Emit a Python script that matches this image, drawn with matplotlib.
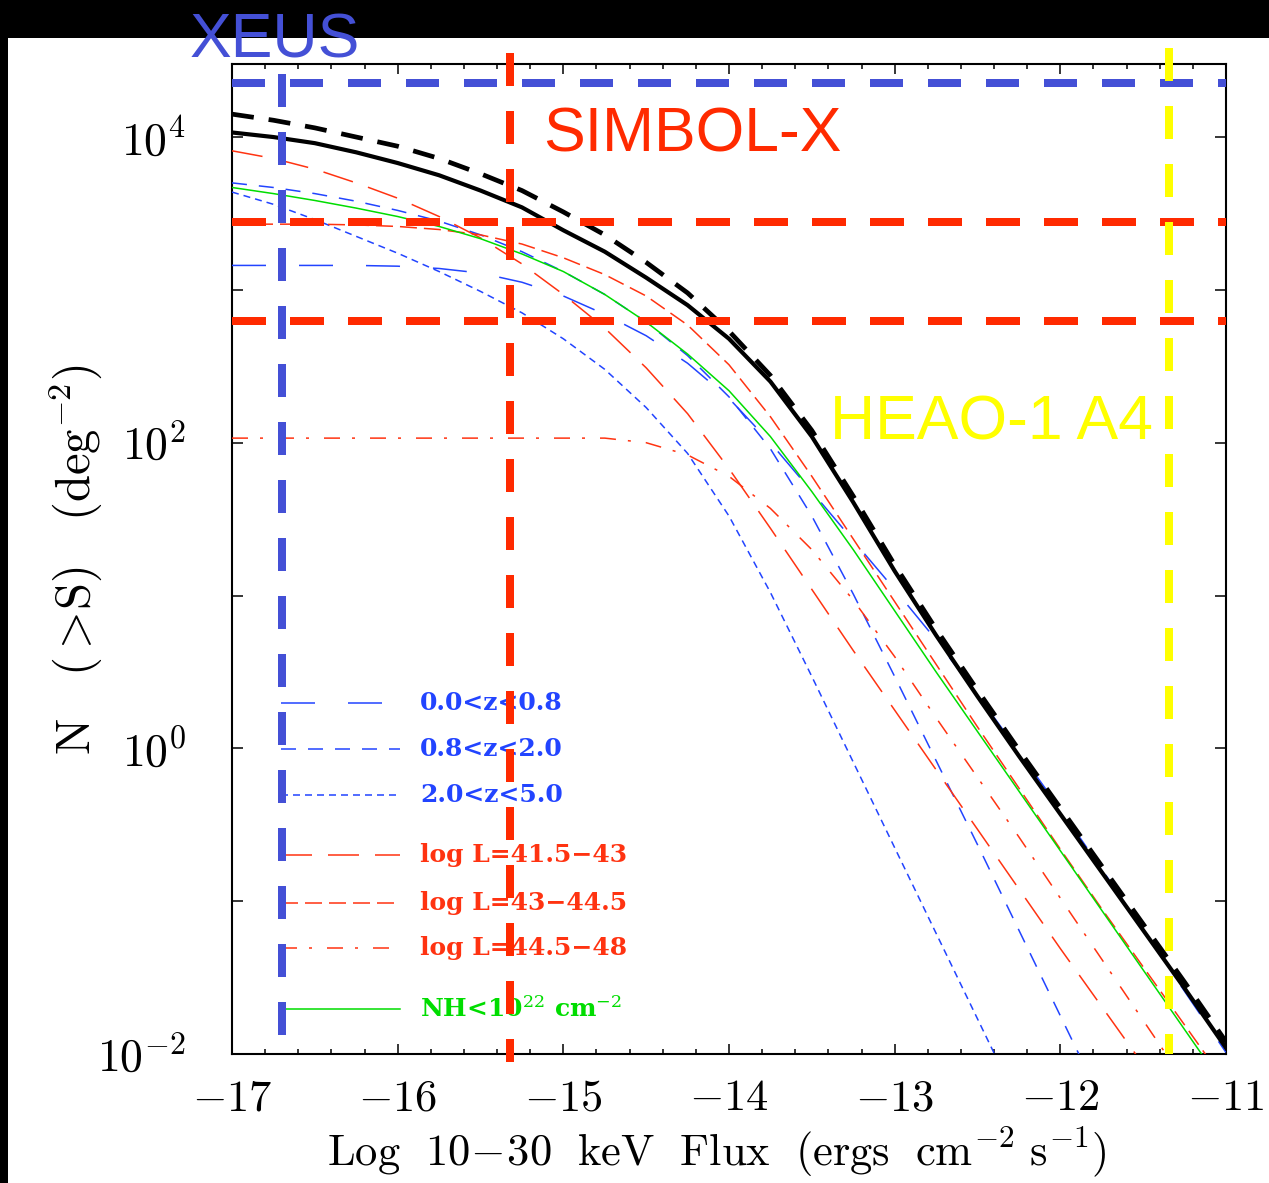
import numpy as np
import matplotlib
matplotlib.use("Agg")
import matplotlib.pyplot as plt
from matplotlib.patches import Rectangle
from matplotlib.ticker import FixedLocator, FixedFormatter, NullFormatter

plt.rcParams['mathtext.fontset'] = 'cm'
plt.rcParams['lines.scale_dashes'] = False

# ---- data: log10 N(>S) versus log10 flux (10-30 keV) ----
log_flux = [-17, -16.75, -16.5, -16.25, -16, -15.75, -15.5, -15.25, -15, -14.75,
            -14.5, -14.25, -14, -13.75, -13.5, -13.25, -13, -12.75, -12.5, -12.25,
            -12, -11.75, -11.5, -11.25, -11]
nan = np.nan

total = [4.03, 4.00, 3.96, 3.90, 3.83, 3.75, 3.65, 3.54, 3.39, 3.25,
         3.08, 2.90, 2.68, 2.40, 2.04, 1.61, 1.16, 0.74, 0.34, -0.05,
         -0.43, -0.81, -1.19, -1.57, -1.96]
total_alt = [4.15, 4.11, 4.06, 4.00, 3.94, 3.86, 3.76, 3.65, 3.51, 3.36,
             3.18, 2.98, 2.73, 2.44, 2.08, 1.65, 1.20, 0.78, 0.38, -0.01,
             -0.39, -0.77, -1.15, -1.53, -1.92]
z_00_08 = [3.16, 3.16, 3.16, 3.16, 3.155, 3.14, 3.11, 3.05, 2.96, 2.84,
           2.70, 2.52, 2.29, 2.00, 1.68, 1.36, 1.04, 0.71, 0.35, -0.02,
           -0.40, -0.79, -1.19, -1.59, -1.99]
z_08_20 = [3.70, 3.67, 3.63, 3.58, 3.52, 3.45, 3.36, 3.25, 3.12, 2.97,
           2.79, 2.57, 2.30, 1.96, 1.52, 1.01, 0.47, -0.08, -0.63, -1.19,
           -1.75, -2.31, nan, nan, nan]
z_20_50 = [3.64, 3.56, 3.46, 3.35, 3.24, 3.12, 2.99, 2.85, 2.68, 2.48,
           2.23, 1.93, 1.52, 1.02, 0.47, -0.09, -0.65, -1.21, -1.77, -2.33,
           nan, nan, nan, nan, nan]
lum_415_43 = [3.91, 3.86, 3.79, 3.70, 3.60, 3.48, 3.34, 3.17, 2.97, 2.75,
              2.49, 2.19, 1.83, 1.44, 1.04, 0.64, 0.25, -0.14, -0.53, -0.92,
              -1.31, -1.69, -2.07, nan, nan]
lum_43_445 = [3.43, 3.43, 3.43, 3.425, 3.415, 3.395, 3.36, 3.30, 3.21, 3.10,
              2.96, 2.77, 2.51, 2.17, 1.78, 1.37, 0.96, 0.55, 0.14, -0.26,
              -0.66, -1.05, -1.43, -1.81, -2.19]
lum_445_48 = [2.03, 2.03, 2.03, 2.03, 2.03, 2.03, 2.03, 2.03, 2.03, 2.03,
              2.00, 1.92, 1.78, 1.57, 1.30, 0.97, 0.60, 0.20, -0.19, -0.58,
              -0.98, -1.38, -1.78, -2.18, nan]
nh_lt_22 = [3.67, 3.63, 3.585, 3.535, 3.48, 3.415, 3.335, 3.235, 3.12, 2.97,
            2.79, 2.58, 2.34, 2.04, 1.68, 1.30, 0.90, 0.50, 0.11, -0.28,
            -0.67, -1.06, -1.45, -1.84, -2.23]

# mission sensitivity limits (log flux) and survey densities (N per deg^2)
xeus_flux, xeus_density = -16.70, 22500
simbol_flux, simbol_densities = -15.32, [2780, 625]
heao_flux = -11.345

legend_labels = ["0.0<z<0.8", "0.8<z<2.0", "2.0<z<5.0",
                 "log L=41.5\u221243", "log L=43\u221244.5", "log L=44.5\u221248",
                 r"NH<10$^{22}$ cm$^{-2}$"]

# ---- styling ----
PX = 0.72  # points per pixel at dpi=100
BLUE, RED, GREEN = '#2244ff', '#ff3311', '#00dd00'
OV_BLUE, OV_RED, OV_YEL = '#4450d6', '#ff2a00', '#ffff00'

def dash(*px):
    return (0, tuple(p * PX for p in px))

styles = [
    (z_00_08, BLUE, dash(34, 33), 1.1),
    (z_08_20, BLUE, dash(15, 12), 1.1),
    (z_20_50, BLUE, dash(7, 5), 1.1),
    (lum_415_43, RED, dash(31, 16), 1.1),
    (lum_43_445, RED, dash(17, 7), 1.1),
    (lum_445_48, RED, dash(16, 12, 3, 15), 1.1),
    (nh_lt_22, GREEN, '-', 1.1),
]

fig = plt.figure(figsize=(12.69, 11.83), dpi=100)
W, H = 1269, 1183
fig.patches.append(Rectangle((0, 1 - 38 / H), 1, 38 / H, transform=fig.transFigure,
                             facecolor='black', edgecolor='none', zorder=-10))
fig.patches.append(Rectangle((0, 0), 8 / W, 1, transform=fig.transFigure,
                             facecolor='black', edgecolor='none', zorder=-10))

ax = fig.add_axes([232 / W, 1 - 1054 / H, (1226 - 232) / W, (1054 - 64) / H])
ax.set_yscale('log')
ax.set_xlim(-17, -11)
ax.set_ylim(1e-2, 10 ** 4.478)

lx = np.array(log_flux)
for vals, col, ls, lw in styles:
    ax.plot(lx, 10 ** np.array(vals), color=col, linestyle=ls, lw=lw, zorder=3)
ax.plot(lx, 10 ** np.array(total), color='black', lw=3.0, zorder=4)
ax.plot(lx, 10 ** np.array(total_alt), color='black', lw=3.4,
        linestyle=dash(22, 15), zorder=4)

# sensitivity overlays
ov_lw = 8 * PX
ov_ls = dash(33, 25)
ax.axhline(xeus_density, color=OV_BLUE, lw=ov_lw, linestyle=ov_ls, zorder=6)
ax.plot([xeus_flux, xeus_flux], [10 ** 4.41, 10 ** -1.92], color=OV_BLUE,
        lw=ov_lw, linestyle=ov_ls, zorder=6, solid_capstyle='butt')
for d in simbol_densities:
    ax.axhline(d, color=OV_RED, lw=ov_lw, linestyle=dash(34, 24), zorder=6)
ax.plot([simbol_flux, simbol_flux], [10 ** 4.55, 10 ** -2.05], color=OV_RED,
        lw=ov_lw, linestyle=ov_ls, zorder=6, clip_on=False)
ax.plot([heao_flux, heao_flux], [10 ** 4.58, 1e-2], color=OV_YEL,
        lw=ov_lw, linestyle=ov_ls, zorder=6, clip_on=False)

big = dict(family='Liberation Sans', fontsize=45, va='baseline', ha='left',
           transform=ax.transAxes, clip_on=False, zorder=7)
ax.text((190 - 232) / 994, (1054 - 57) / 990, 'XEUS', color=OV_BLUE, **big)
ax.text((543 - 232) / 994, (1054 - 152) / 990, 'SIMBOL-X', color=OV_RED, **big)
ax.text((830 - 232) / 994, (1054 - 440) / 990, 'HEAO-1 A4', color=OV_YEL, **big)

# hand-placed key
rows_px = [703, 749, 795, 855, 903, 948, 1009]
for (vals, col, ls, lw), label, ypx in zip(styles, legend_labels, rows_px):
    yf = (1054 - ypx) / 990
    ax.plot([(281 - 232) / 994, (400 - 232) / 994], [yf, yf], transform=ax.transAxes,
            color=col, linestyle=ls, lw=lw, zorder=5)
    ax.text((420 - 232) / 994, yf, label, transform=ax.transAxes, color=col,
            family='DejaVu Serif', fontweight='bold', fontsize=18, va='center',
            ha='left', math_fontfamily='dejavuserif', zorder=5)

# axes, ticks
ax.xaxis.set_major_locator(FixedLocator([-17, -16, -15, -14, -13, -12, -11]))
ax.xaxis.set_major_formatter(FixedFormatter([r'$-17$', r'$-16$', r'$-15$', r'$-14$',
                                             r'$-13$', r'$-12$', r'$-11$']))
ax.xaxis.set_minor_locator(FixedLocator(np.arange(-17, -10.9, 0.2)))
ax.yaxis.set_major_locator(FixedLocator([1e-2, 1, 1e2, 1e4]))
ax.yaxis.set_major_formatter(FixedFormatter([r'$10^{-2}$', r'$10^{0}$', r'$10^{2}$', r'$10^{4}$']))
ax.yaxis.set_minor_locator(FixedLocator([1e-1, 1e1, 1e3]))
ax.yaxis.set_minor_formatter(NullFormatter())
ax.tick_params(which='both', direction='in', top=True, right=True, width=1.1,
               colors='black')
ax.tick_params(axis='x', which='major', length=7.5, pad=16, labelsize=32)
ax.tick_params(axis='x', which='minor', length=3.5)
ax.tick_params(axis='y', which='major', length=8, pad=33, labelsize=33)
ax.tick_params(axis='y', which='minor', length=8)
for s in ax.spines.values():
    s.set_linewidth(1.5)

fig.text(717 / W, 1 - 1152 / H,
         r'$\mathrm{Log\ \ 10\!-\!30\ \ keV\ \ Flux\ \ (ergs\ \ cm^{-2}\ s^{-1})}$',
         fontsize=32, ha='center', va='center')
fig.text(75 / W, 1 - 560 / H, r'$\mathrm{N\ \ \ (>\!S)\ \ \ (deg^{-2})}$',
         fontsize=35, ha='center', va='center', rotation=90)

fig.savefig('out.png', dpi=100, facecolor='white')
